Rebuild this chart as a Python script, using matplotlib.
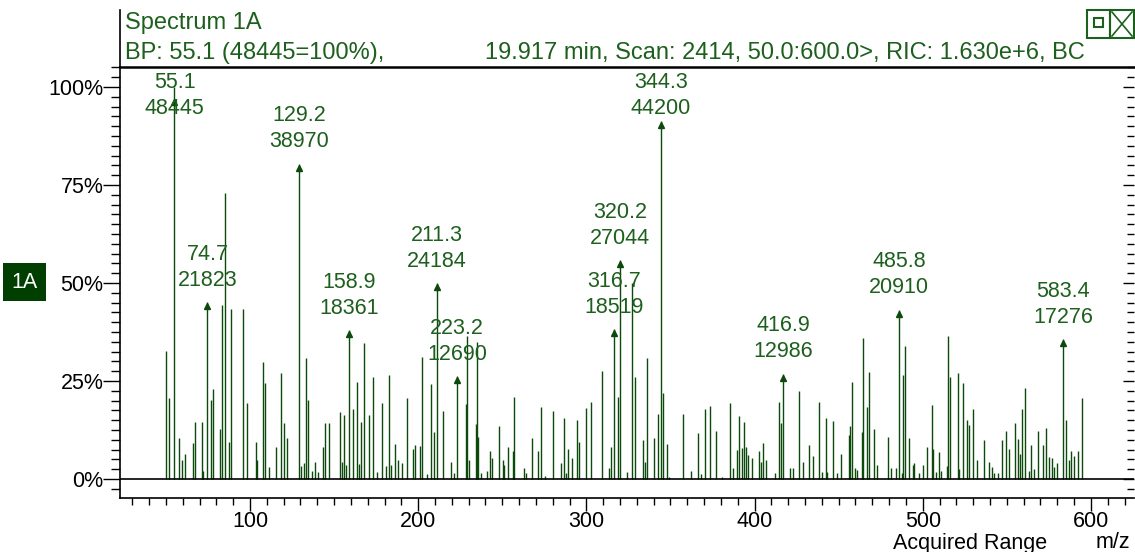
import matplotlib
matplotlib.use("Agg")
import matplotlib.pyplot as plt
from matplotlib.ticker import MultipleLocator, FixedLocator, FuncFormatter
from matplotlib.patches import Rectangle
from matplotlib.lines import Line2D

plt.rcParams['font.family'] = ['Liberation Sans', 'DejaVu Sans']

# ---------------------------------------------------------------- data
BASE_PEAK = 48445  # counts of the base peak (55.1) = 100 %

# annotated peaks: m/z and absolute counts
label_mz = [55.1, 74.7, 129.2, 158.9, 211.3, 223.2, 316.7, 320.2, 344.3, 416.9, 485.8, 583.4]
label_counts = [48445, 21823, 38970, 18361, 24184, 12690, 18519, 27044, 44200, 12986, 20910, 17276]

# remaining centroid peaks: m/z and relative abundance (%)
peak_mz = [
    50.1, 52.0, 57.8, 59.6, 61.5, 65.9, 67.1, 71.5, 72.2, 76.8, 77.8, 82.2, 83.2, 85.3,
    87.7, 88.7, 96.0, 98.0, 103.4, 104.3, 107.9, 108.9, 111.1, 115.3, 118.6, 120.2, 121.8,
    130.1, 132.3, 133.3, 134.3, 136.7, 138.6, 140.6, 143.2, 144.4, 147.1, 153.5, 154.5,
    155.9, 157.1, 161.1, 163.8, 164.8, 165.8, 168.0, 170.9, 173.3, 175.3, 178.7, 180.9,
    182.8, 183.8, 186.2, 188.2, 190.4, 193.5, 197.1, 198.1, 201.1, 202.1, 205.4, 207.4,
    209.6, 214.9, 219.5, 221.5, 228.2, 228.8, 230.4, 234.4, 235.1, 235.7, 237.3, 240.7,
    242.7, 243.7, 248.2, 250.2, 251.2, 253.6, 256.2, 257.0, 263.1, 264.1, 267.5, 271.0,
    273.0, 275.4, 280.0, 284.7, 286.7, 287.7, 289.2, 291.3, 294.2, 295.6, 299.8, 302.7,
    309.5, 313.6, 314.4, 319.0, 324.0, 326.9, 328.9, 333.8, 334.8, 336.2, 340.4, 342.7,
    345.7, 348.1, 349.3, 357.6, 362.0, 366.2, 368.1, 370.5, 373.5, 377.1, 380.4, 385.4,
    387.3, 389.7, 390.9, 392.3, 393.7, 394.9, 396.3, 398.3, 402.8, 403.8, 404.8, 406.6,
    412.1, 414.5, 415.5, 421.0, 423.0, 426.6, 428.6, 432.5, 434.5, 438.3, 439.9, 442.2,
    443.2, 446.4, 448.8, 451.2, 456.1, 456.7, 457.7, 459.7, 461.1, 463.7, 464.6, 467.0,
    468.2, 471.0, 472.6, 479.5, 480.9, 484.1, 487.4, 488.4, 489.4, 492.0, 494.0, 494.9,
    497.9, 499.9, 502.3, 505.6, 506.2, 507.7, 509.6, 510.8, 514.2, 515.2, 516.2, 521.1,
    521.7, 523.7, 526.1, 527.6, 530.0, 532.0, 536.6, 539.5, 540.9, 542.3, 544.9, 547.3,
    549.3, 551.4, 554.8, 556.4, 557.8, 559.2, 560.8, 563.3, 564.3, 566.1, 568.7, 571.6,
    573.1, 575.0, 576.6, 578.0, 580.0, 585.0, 587.1, 588.1, 590.1, 592.4, 594.8,
]
peak_rel = [
    32.7, 20.7, 10.5, 4.8, 6.4, 9.3, 14.6, 14.6, 2.0, 20.2, 23.0, 12.7, 44.4, 73.0,
    9.5, 43.4, 43.4, 19.4, 9.5, 4.8, 29.9, 24.4, 3.0, 8.1, 27.1, 14.2, 10.5,
    3.3, 4.0, 30.8, 20.2, 2.0, 4.4, 1.9, 8.1, 14.4, 14.2, 17.2, 4.4,
    16.3, 3.6, 17.8, 24.8, 3.8, 14.6, 34.6, 16.3, 26.1, 1.9, 19.3, 3.3,
    26.5, 3.6, 8.9, 4.8, 4.0, 20.6, 7.6, 8.7, 8.5, 31.2, 1.2, 24.2,
    12.1, 17.3, 4.3, 1.6, 19.1, 36.5, 4.8, 14.0, 35.0, 10.8, 1.5, 2.0,
    7.2, 5.3, 13.6, 4.8, 3.6, 8.1, 7.1, 21.0, 2.9, 1.6, 10.4, 7.1,
    18.3, 0.8, 17.3, 4.0, 15.5, 1.6, 7.6, 5.3, 15.0, 9.5, 18.0, 19.7,
    27.6, 2.9, 8.1, 21.0, 1.9, 50.0, 26.1, 10.0, 4.4, 30.8, 10.4, 16.5,
    21.9, 8.9, 0.6, 16.5, 2.0, 11.8, 1.3, 17.9, 18.6, 12.2, 0.6, 19.3,
    2.9, 7.4, 16.1, 7.8, 14.6, 8.2, 6.1, 5.3, 7.2, 4.4, 9.1, 4.8,
    1.6, 19.7, 14.4, 2.9, 2.9, 22.4, 4.4, 8.7, 5.9, 19.6, 1.9, 15.5,
    1.9, 14.9, 1.5, 6.3, 11.2, 13.6, 24.8, 2.7, 2.3, 12.1, 35.9, 18.4,
    27.4, 12.7, 3.6, 10.8, 2.9, 2.9, 1.6, 26.5, 34.0, 10.4, 3.6, 4.2,
    1.6, 3.6, 8.1, 18.9, 7.6, 1.9, 6.8, 2.0, 3.3, 36.5, 26.1, 27.1,
    2.5, 24.4, 15.0, 13.8, 17.8, 4.8, 10.0, 4.4, 3.1, 1.6, 1.6, 10.0,
    12.3, 7.6, 14.2, 10.2, 6.4, 17.8, 23.1, 2.0, 8.7, 2.5, 12.2, 8.7,
    13.1, 5.7, 5.3, 3.0, 4.2, 15.0, 4.8, 7.1, 5.9, 7.1, 20.7,
]

y_ticks = [0, 25, 50, 75, 100]
x_ticks = [100, 200, 300, 400, 500, 600]

title_line = "Spectrum 1A"
bp_line = "BP: 55.1 (48445=100%),"
scan_line = "19.917 min, Scan: 2414, 50.0:600.0>, RIC: 1.630e+6, BC"

# ---------------------------------------------------------------- style
W, H = 1135, 552
GREEN = "#1d5f1d"
BAR = "#0b4a0b"
DARK = "#003f00"
FS = 15.5

fig = plt.figure(figsize=(W / 100, H / 100), dpi=100)
fig.patch.set_facecolor("white")

# pixel-space overlay for header decorations
ov = fig.add_axes([0, 0, 1, 1], zorder=0)
ov.set_xlim(0, W)
ov.set_ylim(H, 0)
ov.axis("off")

ax_l, ax_r, ax_t, ax_b = 120, 1134, 67, 498
ax = fig.add_axes([ax_l / W, 1 - ax_b / H, (ax_r - ax_l) / W, (ax_b - ax_t) / H], zorder=1)
ax.patch.set_alpha(0)
ax.set_xlim(22.7, 625.6)
ax.set_ylim(-4.85, 105.1)

# all peaks as relative abundance
lab_rel = [c / BASE_PEAK * 100 for c in label_counts]
all_mz = peak_mz + label_mz
all_rel = peak_rel + lab_rel
ax.vlines(all_mz, 0, all_rel, color=BAR, lw=1.0, zorder=2)
ax.axhline(0, color="black", lw=1.2, zorder=3)

# annotation of labeled peaks
px_per_unit = (ax_b - ax_t) / (105.1 + 4.85)
top_center_max = (479 - 83) / px_per_unit  # keep labels below the header rule
for mz, cnt, rel in zip(label_mz, label_counts, lab_rel):
    arrow_y = min(rel, 97.2)
    ax.plot([mz], [arrow_y - 1.0], marker="^", ms=4.5, color=BAR, mfc=BAR, zorder=4)
    y_mz = min(rel + 48 / px_per_unit, top_center_max)
    y_cnt = y_mz - 26 / px_per_unit
    ax.text(mz, y_mz, f"{mz:.1f}", ha="center", va="center", color=GREEN, fontsize=FS, zorder=5)
    ax.text(mz, y_cnt, f"{cnt}", ha="center", va="center", color=GREEN, fontsize=FS, zorder=5)

# spines
for s in ["left", "top", "bottom"]:
    ax.spines[s].set_color("black")
    ax.spines[s].set_linewidth(1.2)
ax.spines["top"].set_linewidth(1.8)
ax.spines["right"].set_visible(False)

# y axis
ax.yaxis.set_major_locator(FixedLocator(y_ticks))
ax.yaxis.set_minor_locator(MultipleLocator(2.5))
ax.yaxis.set_major_formatter(FuncFormatter(lambda v, p: f"{int(v)}%"))
ax.tick_params(axis="y", which="major", direction="out", length=12, width=1, pad=0,
               labelsize=FS, colors="black")
ax.tick_params(axis="y", which="minor", direction="out", length=6.5, width=1)

# x axis
ax.xaxis.set_major_locator(FixedLocator(x_ticks))
ax.xaxis.set_minor_locator(MultipleLocator(10))
ax.tick_params(axis="x", which="major", direction="out", length=9, width=1, pad=0.5,
               labelsize=FS, colors="black")
ax.tick_params(axis="x", which="minor", direction="out", length=5, width=1)

# right-hand scale ticks
sec = ax.secondary_yaxis("right")
sec.spines["right"].set_visible(False)
sec.yaxis.set_major_locator(FixedLocator(y_ticks))
sec.yaxis.set_minor_locator(MultipleLocator(2.5))
sec.tick_params(which="major", direction="in", length=8, width=1, labelright=False)
sec.tick_params(which="minor", direction="in", length=5, width=1)

# header
ov.add_line(Line2D([120, 120], [10, 67], color="black", lw=1.2))
ov.text(125, 23, title_line, ha="left", va="center", color=GREEN, fontsize=FS + 1.5)
ov.text(125, 53, bp_line, ha="left", va="center", color=GREEN, fontsize=FS + 1.5)
ov.text(1085, 53, scan_line, ha="right", va="center", color=GREEN, fontsize=FS + 1.5)

# window buttons
ov.add_patch(Rectangle((1087, 10), 23, 28, fill=False, ec=GREEN, lw=1.5))
ov.add_patch(Rectangle((1094, 18), 9, 9, fill=False, ec=GREEN, lw=1.5))
ov.add_patch(Rectangle((1110, 10), 24, 28, fill=False, ec=GREEN, lw=1.5))
ov.add_line(Line2D([1112, 1132], [12, 36], color=GREEN, lw=1.2))
ov.add_line(Line2D([1112, 1132], [36, 12], color=GREEN, lw=1.2))

# trace tag
ov.add_patch(Rectangle((3, 263), 43, 38, color=DARK, lw=0))
ov.text(24.5, 283, "1A", ha="center", va="center", color="white", fontsize=FS)

# axis captions
ov.text(893, 543, "Acquired Range", ha="left", va="center", color="black", fontsize=FS)
ov.text(1130, 543, "m/z", ha="right", va="center", color="black", fontsize=FS)

fig.savefig("out.png", dpi=100)
